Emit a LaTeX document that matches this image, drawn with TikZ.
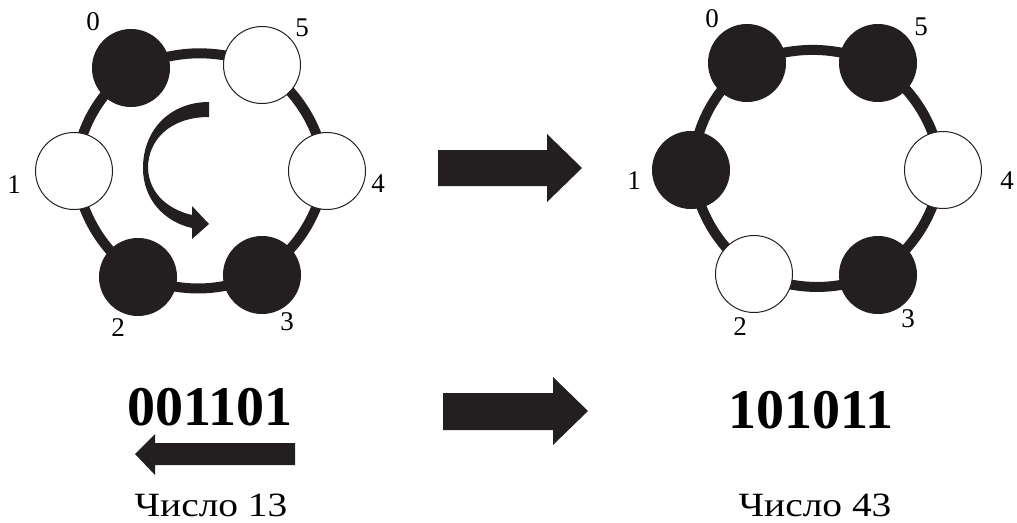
\documentclass[tikz,border=0pt]{standalone}
\usepackage{fontspec}
\setmainfont{Liberation Serif}
\newfontfamily\widefont[FakeStretch=1.16]{Liberation Serif}
\usetikzlibrary{backgrounds}
\definecolor{ink}{HTML}{231F20}

\begin{document}
\begin{tikzpicture}[x=1pt,y=-1pt,
    bit/.style={circle,draw=ink,line width=1pt,minimum size=77pt,inner sep=0pt},
    one/.style={bit,fill=ink},
    zero/.style={bit,fill=white},
    ring/.style={draw=ink,line width=10pt},
    num/.style={font=\fontsize{27}{30}\selectfont,inner sep=0pt},
    word/.style={font=\bfseries\fontsize{56}{60}\selectfont,inner sep=0pt},
    valtext/.style={font=\widefont\fontsize{34}{38}\selectfont,inner sep=0pt,anchor=base}]
    \useasboundingbox (0,0) rectangle (1017,522);

    \node[one]  (l0) at (131,68) {};
    \node[zero] (l5) at (262,65) {};
    \node[zero] (l4) at (327,171) {};
    \node[one]  (l3) at (262,275) {};
    \node[one]  (l2) at (138,277) {};
    \node[zero] (l1) at (74,171) {};
    \node[num] (lt0) at (93,22) {0};
    \node[num] (lt5) at (302,28) {5};
    \node[num] (lt4) at (378,184) {4};
    \node[num] (lt3) at (287,322) {3};
    \node[num] (lt2) at (118,328) {2};
    \node[num] (lt1) at (14,185) {1};

    \node[one]  (r0) at (747,63) {};
    \node[one]  (r5) at (878,63) {};
    \node[zero] (r4) at (943,170) {};
    \node[one]  (r3) at (878,275) {};
    \node[zero] (r2) at (754,274) {};
    \node[one]  (r1) at (691,170) {};
    \node[num] (rt0) at (712,19) {0};
    \node[num] (rt5) at (921,27) {5};
    \node[num] (rt4) at (1007,181) {4};
    \node[num] (rt3) at (908,319) {3};
    \node[num] (rt2) at (740,327) {2};
    \node[num] (rt1) at (634,181) {1};

    \begin{scope}[on background layer]
        \draw[ring] (l0.center) to[bend left=20] (l5.center) to[bend left=20] (l4.center)
            to[bend left=20] (l3.center) to[bend left=20] (l2.center)
            to[bend left=20] (l1.center) to[bend left=20] (l0.center);
        \draw[ring] (r0.center) to[bend left=20] (r5.center) to[bend left=20] (r4.center)
            to[bend left=20] (r3.center) to[bend left=20] (r2.center)
            to[bend left=20] (r1.center) to[bend left=20] (r0.center);
    \end{scope}

    \fill[ink] (209,102) .. controls (170,102) and (143,130) .. (143,168)
        .. controls (143,200) and (165,222) .. (192,228) -- (192,239) -- (209,224)
        -- (192,206) -- (192,215) .. controls (170,210) and (149,195) .. (148,168)
        .. controls (148,140) and (170,117) .. (209,117) -- cycle;

    \fill[ink] (438,150)--(547,150)--(547,134)--(582,168)--(547,202)--(547,186)--(438,186)--cycle;
    \fill[ink] (443,393)--(553,393)--(553,377)--(588,411)--(553,445)--(553,430)--(443,430)--cycle;
    \fill[ink] (295,443)--(155,443)--(155,434)--(135,454)--(155,475)--(155,465)--(295,465)--cycle;

    \node[word] (lw) at (210,407) {001101};
    \node[word] (rw) at (811,410) {101011};
    \node[valtext] (lc) at (211,516) {Число 13};
    \node[valtext] (rc) at (815,516) {Число 43};
\end{tikzpicture}
\end{document}
